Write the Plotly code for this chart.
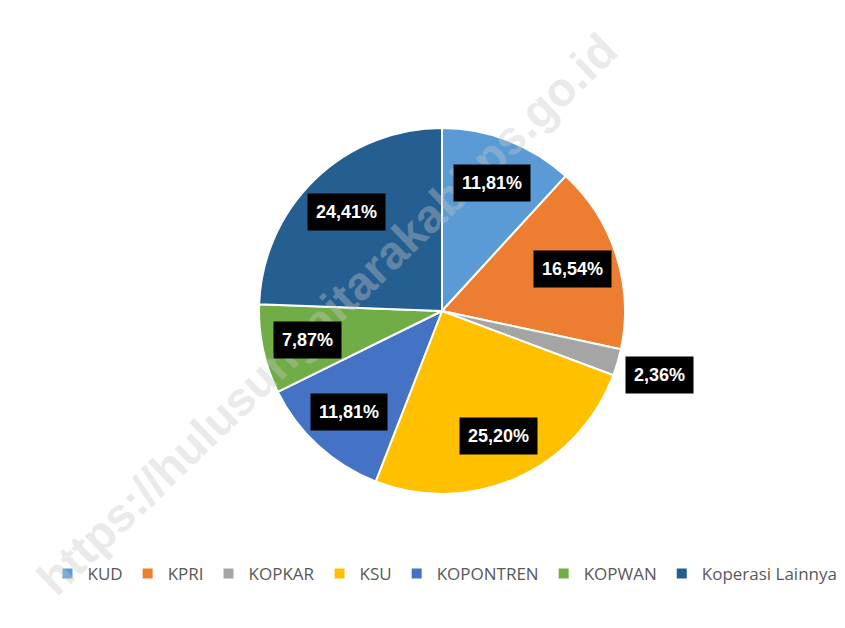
import math
import plotly.graph_objects as go

categories = ["KUD", "KPRI", "KOPKAR", "KSU", "KOPONTREN", "KOPWAN", "Koperasi Lainnya"]
values = [11.81, 16.54, 2.36, 25.20, 11.81, 7.87, 24.41]
labels_txt = ["11,81%", "16,54%", "2,36%", "25,20%", "11,81%", "7,87%", "24,41%"]
colors = ["#5B9BD5", "#ED7D31", "#A5A5A5", "#FFC000", "#4472C4", "#70AD47", "#255E91"]

W, H = 845, 628
OFF = 8  # default page body margin shifts the figure
cx, cy, R = 442 - OFF, 311 - OFF, 183

fig = go.Figure(go.Pie(
    labels=categories, values=values, sort=False, direction="clockwise", rotation=0,
    marker=dict(colors=colors, line=dict(color="white", width=2)),
    textinfo="none", hoverinfo="label+percent",
    domain=dict(x=[(cx - R) / W, (cx + R) / W], y=[1 - (cy + R) / H, 1 - (cy - R) / H]),
))

annotations = []
total = sum(values)
cum = 0
for v, t in zip(values, labels_txt):
    mid = (cum + v / 2) / total * 2 * math.pi
    cum += v
    r = R * (1.24 if v / total < 0.05 else 0.75)
    px = cx + r * math.sin(mid)
    py = cy - r * math.cos(mid)
    annotations.append(dict(
        x=px / W, y=1 - py / H, xref="paper", yref="paper", text="<b>" + t + "</b>", showarrow=False,
        font=dict(family="Liberation Sans", size=18, color="white"),
        bgcolor="black", borderpad=8, xanchor="center", yanchor="middle",
    ))

annotations.insert(0, dict(
    x=(326 - OFF) / W, y=1 - (314 - OFF) / H, xref="paper", yref="paper",
    text="<b>https://hulusungaitarakabbps.go.id</b>",
    showarrow=False, textangle=-44,
    font=dict(family="Liberation Sans", size=47, color="rgba(200,200,200,0.4)"),
))

fig.update_layout(
    width=W, height=H, margin=dict(l=0, r=0, t=0, b=0),
    paper_bgcolor="white", plot_bgcolor="white",
    annotations=annotations,
    legend=dict(orientation="h", x=(445 - OFF) / W, xanchor="center", y=1 - (574 - OFF) / H, yanchor="middle",
                font=dict(family="Open Sans", size=17, color="#595959"), itemwidth=30,
                tracegroupgap=0),
)
fig.write_html("out.html")
